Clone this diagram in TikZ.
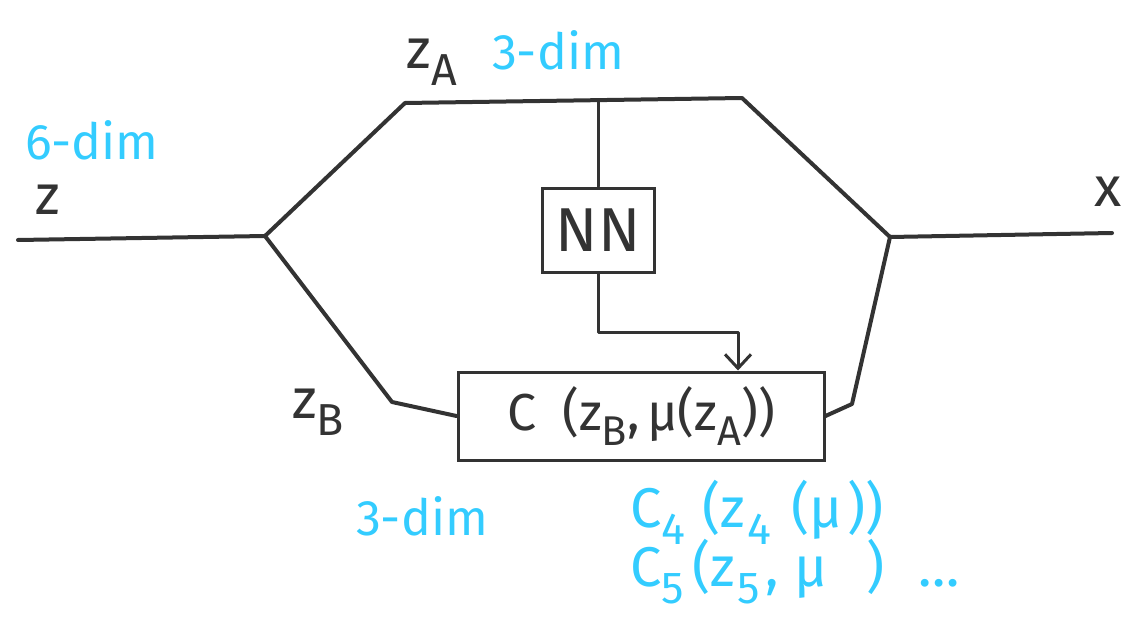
\documentclass[tikz,border=0pt]{standalone}
\usepackage{fontspec}
\setmainfont{Fira Sans}
\usetikzlibrary{arrows.meta}
\definecolor{ink}{HTML}{333333}
\definecolor{note}{HTML}{33CCFF}
% lowered index written in text fonts
\newcommand{\ix}[1]{\raisebox{-0.3em}{\scalebox{0.8}{#1}}}
\tikzset{
  wire/.style={draw=ink, line width=4pt, line cap=round, line join=round},
  thin/.style={draw=ink, line width=3pt, line cap=round, line join=round},
  lbl/.style={text=ink, inner sep=0pt, font=\fontsize{56}{60}\selectfont},
  dimlbl/.style={text=note, inner sep=0pt, font=\fontsize{50}{54}\selectfont},
  formula/.style={text=note, inner sep=0pt, anchor=west, font=\fontsize{56}{60}\selectfont},
  boxlbl/.style={draw=ink, line width=3pt, inner sep=0pt, text=ink}
}
\begin{document}
\begin{tikzpicture}[x=1pt, y=-1pt]
\useasboundingbox (0,0) rectangle (1140,618);

% junctions and bends of the signal paths
\coordinate (zin) at (18,240);
\coordinate (split) at (265,236);
\coordinate (abend) at (405,103);
\coordinate (aend) at (742,98);
\coordinate (tap) at (598,101);
\coordinate (merge) at (890,237);
\coordinate (xout) at (1112,233);
\coordinate (bbend) at (392,402);
\coordinate (cbend) at (852,404);
\coordinate (bend2) at (598,332);

% network and coupling boxes
\node[boxlbl, minimum width=112pt, minimum height=84pt] (nn) at (598,230)
  {\fontsize{62}{66}\selectfont NN};
\node[boxlbl, minimum width=366pt, minimum height=88pt] (cpl) at (641,416)
  {\fontsize{52}{56}\selectfont C\hspace{0.5em}(z\ix{B},\hspace{0.15em}μ(z\ix{A}))};

% input and the two branches
\draw[wire] (zin) -- (split);
\draw[wire] (split) -- (abend) -- (aend) -- (merge);
\draw[wire] (split) -- (bbend) -- (cpl.west);
\draw[wire] (cpl.east) -- (cbend) -- (merge);
\draw[wire] (merge) -- (xout);

% conditioner path
\draw[thin] (tap) -- (nn.north);
\draw[thin, -{Straight Barb[length=14pt,width=26pt,line width=3pt]}]
  (nn.south) |- (bend2) -| (cpl.north -| 738,0);

% labels
\node[lbl] (lz) at (48,200) {z};
\node[dimlbl] (l6) at (92,140) {6-dim};
\node[lbl] (lza) at (432,62) {z\ix{A}};
\node[dimlbl] (l3a) at (558,50) {3-dim};
\node[lbl] (lzb) at (318,412) {z\ix{B}};
\node[dimlbl] (l3b) at (422,516) {3-dim};
\node[lbl] (lx) at (1108,192) {x};
\node[formula] (c4) at (630,512)
  {C\ix{4}\hspace{0.3em}(z\hspace{0.05em}\ix{4}\hspace{0.35em}(μ\hspace{0.1em}))};
\node[formula] (c5) at (630,572)
  {C\ix{5}\hspace{0.15em}(z\hspace{0.05em}\ix{5}\hspace{0.1em}, μ\hspace{0.7em})\hspace{0.6em}…};
\end{tikzpicture}
\end{document}
